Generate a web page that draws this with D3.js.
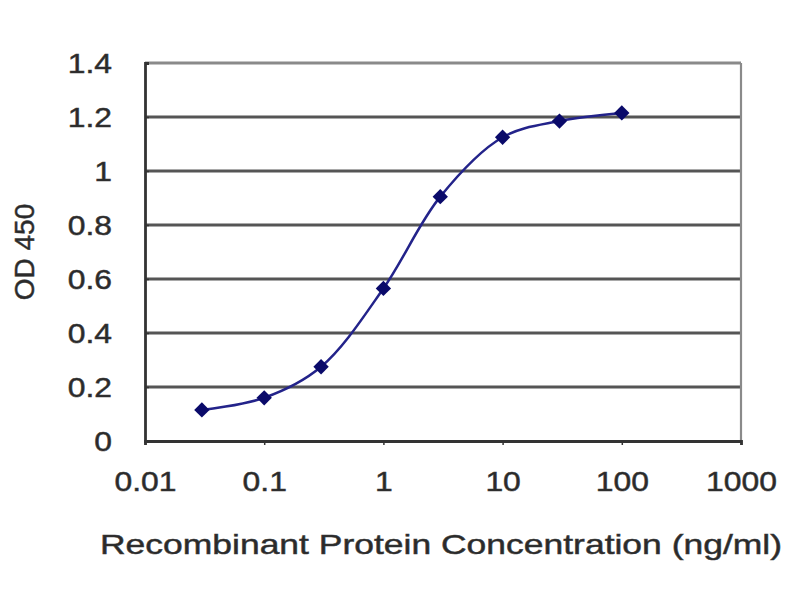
<!DOCTYPE html>
<html>
<head>
<meta charset="utf-8">
<script src="https://cdn.jsdelivr.net/npm/d3@7"></script>
<style>
  body { margin: 0; background: #fff; }
  text { font-family: "Liberation Sans", Arial, sans-serif; fill: #2a2a2a; stroke: #3a3a3a; stroke-width: 0.5px; }
</style>
</head>
<body>
<div id="chart"></div>
<script>
// concentrations (ng/ml) and OD450 readings
var conc = [0.03, 0.1, 0.3, 1, 3, 10, 30, 100];
var od = [0.115, 0.16, 0.275, 0.565, 0.905, 1.125, 1.185, 1.215];
var xTicks = [0.01, 0.1, 1, 10, 100, 1000];
var yTicks = [0, 0.2, 0.4, 0.6, 0.8, 1, 1.2, 1.4];

var width = 800, height = 600;
var margin = {top: 63, right: 59, bottom: 159, left: 145};
var w = width - margin.left - margin.right;
var h = height - margin.top - margin.bottom;

var svg = d3.select("#chart").append("svg")
    .attr("width", width)
    .attr("height", height);

var g = svg.append("g")
    .attr("transform", "translate(" + margin.left + "," + margin.top + ")");

var x = d3.scaleLog().domain([0.01, 1000]).range([0, w]);
var y = d3.scaleLinear().domain([0, 1.4]).range([h, 0]);

// horizontal grid (top one is the lighter frame line)
g.selectAll(".grid")
    .data(yTicks.slice(1))
    .enter().append("line")
    .attr("class", "grid")
    .attr("x1", 0).attr("x2", w)
    .attr("y1", function (d) { return y(d); })
    .attr("y2", function (d) { return y(d); })
    .attr("stroke", function (d) { return d === 1.4 ? "#8a8a8a" : "#555"; })
    .attr("stroke-width", 2.8);

// right frame
g.append("line")
    .attr("x1", w).attr("x2", w).attr("y1", 0).attr("y2", h)
    .attr("stroke", "#8a8a8a").attr("stroke-width", 2.2);

// axes
var xAxis = d3.axisBottom(x).tickValues(xTicks).tickSize(4).tickFormat(d3.format("~g"));
var yAxis = d3.axisLeft(y).tickValues(yTicks).tickSize(-4).tickFormat(d3.format("~g"));

var gx = g.append("g").attr("transform", "translate(0," + h + ")").call(xAxis);
var gy = g.append("g").call(yAxis);

[gx, gy].forEach(function (a) {
    a.select(".domain").attr("stroke", "#333").attr("stroke-width", 2.8);
    a.selectAll(".tick line").attr("stroke", "#333").attr("stroke-width", 1.5);
    a.selectAll(".tick text").attr("font-size", 27).attr("fill", "#2a2a2a");
});
gx.selectAll(".tick text").attr("y", 31).attr("dy", "0.71em");
gy.selectAll(".tick text").attr("x", -33).attr("dy", "0.36em");

// widen the tick labels a bit, like the stretched original
svg.selectAll(".tick text").each(function () {
    var len = this.getComputedTextLength();
    d3.select(this).attr("textLength", len * 1.18).attr("lengthAdjust", "spacingAndGlyphs");
});

// fitted curve
var line = d3.line()
    .x(function (d, i) { return x(conc[i]); })
    .y(function (d) { return y(d); })
    .curve(d3.curveCatmullRom.alpha(0.5));

g.append("path")
    .attr("d", line(od))
    .attr("fill", "none")
    .attr("stroke", "#23238a")
    .attr("stroke-width", 2.5);

// diamond markers
g.selectAll(".pt")
    .data(od)
    .enter().append("path")
    .attr("class", "pt")
    .attr("d", d3.symbol().type(d3.symbolDiamond2).size(150))
    .attr("transform", function (d, i) { return "translate(" + x(conc[i]) + "," + y(d) + ")"; })
    .attr("fill", "#0a0a6a");

// axis titles
svg.append("text")
    .attr("x", 441).attr("y", 554)
    .attr("text-anchor", "middle")
    .attr("font-size", 28)
    .attr("textLength", 682)
    .attr("lengthAdjust", "spacingAndGlyphs")
    .text("Recombinant Protein Concentration (ng/ml)");

svg.append("text")
    .attr("transform", "translate(34,252) rotate(-90)")
    .attr("text-anchor", "middle")
    .attr("font-size", 28)
    .text("OD 450");
</script>
</body>
</html>
